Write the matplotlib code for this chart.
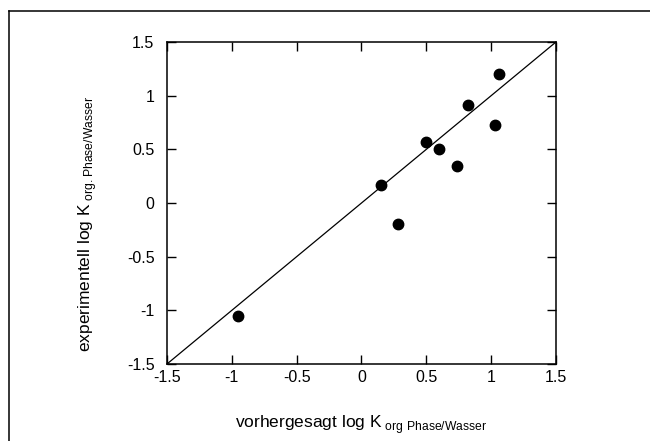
import matplotlib
matplotlib.use("Agg")
import matplotlib.pyplot as plt
from matplotlib.lines import Line2D

plt.rcParams['font.family'] = ['Liberation Sans', 'DejaVu Sans']
plt.rcParams['mathtext.fontset'] = 'custom'
plt.rcParams['mathtext.rm'] = 'Liberation Sans'

# predicted vs experimental log K (org. Phase / Wasser)
predicted = [-0.95, 0.15, 0.28, 0.50, 0.60, 0.74, 0.82, 1.03, 1.06]
experimental = [-1.05, 0.17, -0.20, 0.57, 0.50, 0.34, 0.91, 0.73, 1.20]
diagonal = [-1.5, 1.5]
ticks = [-1.5, -1, -0.5, 0, 0.5, 1, 1.5]
tickLabels = ['-1.5', '-1', '-0.5', '0', '0.5', '1', '1.5']

fig = plt.figure(figsize=(6.5, 4.41), dpi=100)
ax = fig.add_axes([0.2569, 0.1746, 0.5985, 0.7302])

ax.plot(diagonal, diagonal, color='black', linewidth=0.9)
ax.plot(predicted, experimental, 'o', color='black', markersize=7.5)

ax.set_xlim(-1.5, 1.5)
ax.set_ylim(-1.5, 1.5)
ax.set_xticks(ticks)
ax.set_xticklabels(tickLabels)
ax.set_yticks(ticks)
ax.set_yticklabels(tickLabels)
ax.tick_params(direction='in', length=6.5, width=1.0, top=True, right=True,
               labelsize=11.5, colors='black')
ax.tick_params(axis='x', pad=4)
ax.tick_params(axis='y', pad=9)
for spine in ax.spines.values():
    spine.set_linewidth(1.1)

ax.set_xlabel(r'vorhergesagt log K$_{\ \mathrm{org\ Phase/Wasser}}$', fontsize=12.5)
ax.set_ylabel(r'experimentell log K$_{\ \mathrm{org.Phase/Wasser}}$', fontsize=12.5)
ax.xaxis.set_label_coords(0.5, -0.152)
ax.yaxis.set_label_coords(-0.175, 0.435)

# scanned page frame
fig.add_artist(Line2D([9 / 650, 1.0], [1 - 11 / 441, 1 - 11 / 441],
                      transform=fig.transFigure, color='black', linewidth=1.1))
fig.add_artist(Line2D([9 / 650, 9 / 650], [1 - 11 / 441, 0.0],
                      transform=fig.transFigure, color='black', linewidth=1.1))

fig.savefig('out.png', dpi=100)
